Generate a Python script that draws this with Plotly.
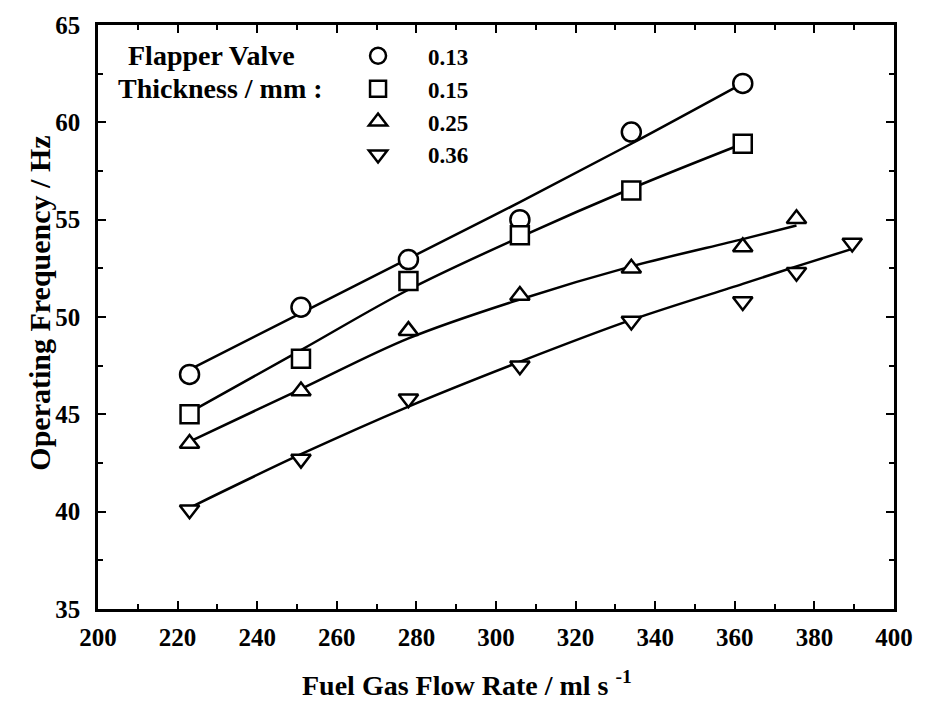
import plotly.graph_objects as go

# Fuel gas flow rate (ml/s) and operating frequency (Hz) per flapper valve thickness
flow_013 = [223, 251, 278, 306, 334, 362]
freq_013 = [47.05, 50.5, 52.95, 55.0, 59.5, 62.0]
fit_013 = [47.3, 50.2, 53.0, 55.9, 58.9, 62.0]

flow_015 = [223, 251, 278, 306, 334, 362]
freq_015 = [45.0, 47.85, 51.85, 54.2, 56.5, 58.9]
fit_015 = [45.1, 48.3, 51.4, 54.1, 56.6, 58.9]

flow_025 = [223, 251, 278, 306, 334, 362, 375.5]
freq_025 = [43.5, 46.2, 49.3, 51.1, 52.5, 53.6, 55.05]
fit_025 = [43.6, 46.3, 48.9, 50.9, 52.6, 54.0, 54.7]

flow_036 = [223, 251, 278, 306, 334, 362, 375.5, 389.5]
freq_036 = [40.1, 42.7, 45.8, 47.5, 49.8, 50.8, 52.3, 53.8]
fit_036 = [40.2, 42.95, 45.4, 47.7, 49.85, 51.7, 52.6, 53.5]

thickness_labels = ["0.13", "0.15", "0.25", "0.36"]
symbols = ["circle", "square", "triangle-up", "triangle-down"]
sizes = [19, 18, 17, 17]

series = [
    (flow_013, freq_013, fit_013),
    (flow_015, freq_015, fit_015),
    (flow_025, freq_025, fit_025),
    (flow_036, freq_036, fit_036),
]

FONT = "Liberation Serif"

fig = go.Figure()

# fitted curves first so the markers sit on top of them
for (x, y, fit) in series:
    fig.add_trace(go.Scatter(
        x=x, y=fit, mode="lines", line=dict(color="black", width=2.5, shape="spline"),
        showlegend=False, hoverinfo="skip",
    ))

for (x, y, fit), label, sym, sz in zip(series, thickness_labels, symbols, sizes):
    fig.add_trace(go.Scatter(
        x=x, y=y, mode="markers", name=label,
        marker=dict(symbol=sym, size=sz, color="white",
                    line=dict(color="black", width=2.5)),
    ))

axis_common = dict(
    showline=True, linecolor="black", linewidth=2.5, mirror="allticks",
    ticks="inside", ticklen=8, tickwidth=2, tickcolor="black",
    showgrid=False, zeroline=False,
    tickfont=dict(family=FONT, size=25, color="black", weight="bold"),
)

fig.update_xaxes(
    range=[200, 400], dtick=20, tick0=200,
    minor=dict(dtick=10, ticks="inside", ticklen=5, tickwidth=2, tickcolor="black"),
    ticklabelstandoff=4,
    **axis_common,
)
fig.update_yaxes(
    range=[35, 65], dtick=5, tick0=35,
    minor=dict(dtick=2.5, ticks="inside", ticklen=5, tickwidth=2, tickcolor="black"),
    ticklabelstandoff=10,
    **axis_common,
)

# axis titles
fig.add_annotation(
    text="<b>Fuel Gas Flow Rate / ml s <sup>-1</sup></b>", xref="paper", yref="paper",
    x=0.463, y=-0.128, xanchor="center", yanchor="middle", showarrow=False,
    font=dict(family=FONT, size=28, color="black"),
)
fig.add_annotation(
    text="<b>Operating Frequency / Hz</b>", xref="paper", yref="paper",
    x=-0.074, y=0.523, xanchor="center", yanchor="middle", textangle=-90,
    showarrow=False, font=dict(family=FONT, size=30, color="black"),
)

# legend heading
fig.add_annotation(
    text="<b>Flapper Valve</b>", xref="paper", yref="paper",
    x=0.142, y=0.948, xanchor="center", yanchor="middle", showarrow=False,
    font=dict(family=FONT, size=28, color="black"),
)
fig.add_annotation(
    text="<b>Thickness / mm :</b>", xref="paper", yref="paper",
    x=0.154, y=0.892, xanchor="center", yanchor="middle", showarrow=False,
    font=dict(family=FONT, size=28, color="black"),
)

fig.update_layout(
    width=925, height=703,
    margin=dict(l=98, r=22, t=18, b=94),
    paper_bgcolor="white", plot_bgcolor="white",
    showlegend=True,
    legend=dict(
        x=0.289, y=0.984, xanchor="left", yanchor="top",
        bgcolor="rgba(0,0,0,0)", borderwidth=0,
        font=dict(family=FONT, size=23, color="black", weight="bold"),
        itemsizing="trace", itemwidth=90, tracegroupgap=0,
    ),
)

fig.write_html("out.html")
